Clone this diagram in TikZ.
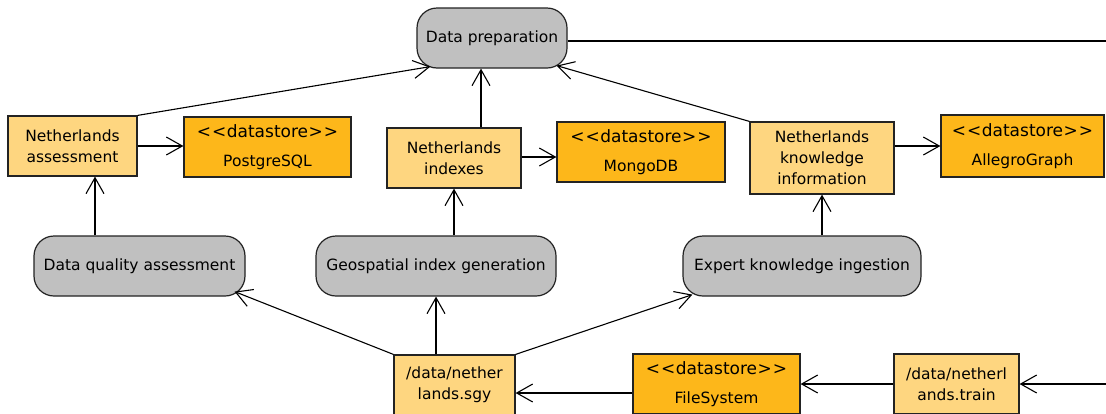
\documentclass[tikz,border=0pt]{standalone}
\usepackage{fontspec}
\setmainfont{DejaVu Sans}
\usetikzlibrary{arrows.meta}
\definecolor{lightor}{RGB}{254,214,128}
\definecolor{storeor}{RGB}{253,183,26}
\definecolor{grayb}{RGB}{192,192,192}
\definecolor{edgec}{RGB}{35,35,35}
\tikzset{
  box/.style={draw=edgec, line width=1.2pt, inner sep=0pt, align=center,
    font=\fontsize{15.5}{21}\selectfont, text=black},
  lightbox/.style={box, fill=lightor},
  storebox/.style={box, fill=storeor},
  actbox/.style={box, fill=grayb, rounded corners=20pt},
  arr/.style={draw=black, line width=1.1pt,
    -{Straight Barb[length=16pt,width=18pt,line width=1.1pt]}},
  plain/.style={draw=black, line width=1.1pt},
}
\newcommand{\dstore}[1]{{\fontsize{17}{20}\selectfont<\kern1pt<\kern0.5pt datastore\kern0.5pt>\kern1pt>}\\[8pt]#1}
\begin{document}
\begin{tikzpicture}[x=1pt,y=-1pt]
\fill[white] (0,0) rectangle (1106,413);
\useasboundingbox (0,0) rectangle (1106,413);
\clip (0,0) rectangle (1106,413);

% top row
\node[actbox, minimum width=150pt, minimum height=60pt] (prep) at (492,38) {Data preparation};

% second row
\node[lightbox, minimum width=129pt, minimum height=60pt] (assess) at (72.5,146) {Netherlands\\assessment};
\node[storebox, minimum width=167pt, minimum height=60pt] (pg) at (267.5,147) {\dstore{PostgreSQL}};
\node[lightbox, minimum width=134pt, minimum height=60pt] (idx) at (454,158) {Netherlands\\indexes};
\node[storebox, minimum width=168pt, minimum height=60pt] (mongo) at (641,152) {\dstore{MongoDB}};
\node[lightbox, minimum width=144pt, minimum height=72pt] (know) at (822,158) {Netherlands\\knowledge\\information};
\node[storebox, minimum width=163pt, minimum height=62pt] (ag) at (1022.5,146) {\dstore{AllegroGraph}};

% third row
\node[actbox, minimum width=211pt, minimum height=60pt] (dqa) at (139.5,266) {Data quality assessment};
\node[actbox, minimum width=240pt, minimum height=60pt] (geo) at (436,266) {Geospatial index generation};
\node[actbox, minimum width=238pt, minimum height=60pt] (exp) at (802,266) {Expert knowledge ingestion};

% bottom row
\node[lightbox, minimum width=121pt, minimum height=60pt] (sgy) at (454.5,385) {/data/nether\\lands.sgy};
\node[storebox, minimum width=167pt, minimum height=60pt] (fs) at (716.5,384) {\dstore{FileSystem}};
\node[lightbox, minimum width=125pt, minimum height=60pt] (train) at (956.5,384) {/data/netherl\\ands.train};

% free ends
\coordinate (outR) at (1110,41);
\coordinate (inR) at (1110,384);

% connectors
\draw[plain] ([yshift=-3pt]prep.east) -- (outR);
\draw[arr] (assess.north east) -- ([xshift=14pt,yshift=2pt]prep.south west);
\draw[arr] ([xshift=-11pt]prep.south |- idx.north) -- ([xshift=-11pt]prep.south);
\draw[arr] (know.north west) -- ([xshift=-11pt,yshift=3pt]prep.south east);

\draw[arr] (assess.east) -- (assess.east -| pg.west);
\draw[arr] ([yshift=1pt]idx.east) -- ([yshift=1pt]idx.east -| mongo.west);
\draw[arr] (ag.west -| know.east) -- (ag.west);

\draw[arr] ([xshift=22.5pt]assess.south |- dqa.north) -- ([xshift=22.5pt]assess.south);
\draw[arr] (geo.north -| idx.south) -- (idx.south);
\draw[arr] (exp.north -| know.south) -- (know.south);

\draw[arr] (sgy.north west) -- ([xshift=-11pt,yshift=5pt]dqa.south east);
\draw[arr] (sgy.north -| geo.south) -- (geo.south);
\draw[arr] (sgy.north east) -- ([xshift=10pt,yshift=2pt]exp.south west);

\draw[arr] ([yshift=-9pt]fs.west) -- ([yshift=-9pt]fs.west -| sgy.east);
\draw[arr] (train.west) -- (train.west -| fs.east);
\draw[arr] (inR) -- (train.east);
\end{tikzpicture}
\end{document}
